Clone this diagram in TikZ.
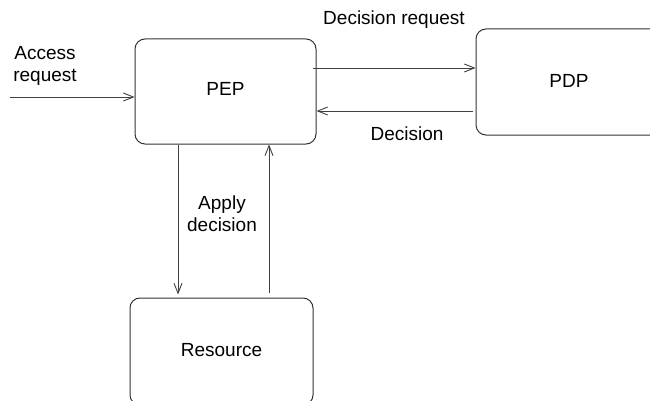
\documentclass[tikz,border=0pt]{standalone}
\usepackage{fontspec}
\setmainfont{Liberation Sans}
\usetikzlibrary{arrows.meta}
\begin{document}
\begin{tikzpicture}[x=1pt,y=-1pt,
  box/.style={draw=black!80, line width=1pt, rounded corners=10pt,
    font=\fontsize{19}{22}\selectfont, text height=14pt, text depth=5pt, inner sep=0pt},
  conn/.style={draw=black!75, line width=0.9pt, -{Straight Barb[length=10pt,width=8pt]}},
  lbl/.style={font=\fontsize{19}{22}\selectfont, inner sep=0pt, anchor=base, align=center},
]
\useasboundingbox (0,0) rectangle (650,401);

% components
\node[box, minimum width=181pt, minimum height=105pt] (pep) at (225.5,91.5) {PEP};
\node[box, text depth=2pt, minimum width=186pt, minimum height=106pt] (pdp) at (569,82) {PDP};
\node[box, minimum width=183pt, minimum height=107pt] (res) at (221.5,351.5) {Resource};

% incoming request (base anchor sits on the last line)
\coordinate (acc) at (10,97);
\draw[conn] (acc) -- (acc -| pep.west);
\node[lbl] (acclbl) at (45,82) {Access\\request};

% PEP <-> PDP
\draw[conn] ([xshift=-4pt,yshift=23.5pt]pep.east) -- ([yshift=14pt]pdp.west);
\draw[conn] ([xshift=-3pt,yshift=-29pt]pdp.west) -- ([yshift=-19.5pt]pep.east);
\node[lbl] (reqlbl) at (394,25) {Decision request};
\node[lbl] (declbl) at (407,140) {Decision};

% PEP <-> Resource
\draw[conn] ([xshift=-47.5pt]pep.south) -- ([xshift=-43.5pt,yshift=3pt]res.north);
\draw[conn] ([xshift=47.5pt,yshift=5pt]res.north) -- ([xshift=43.5pt]pep.south);
\node[lbl] (applbl) at (222,231) {Apply\\decision};
\end{tikzpicture}
\end{document}
